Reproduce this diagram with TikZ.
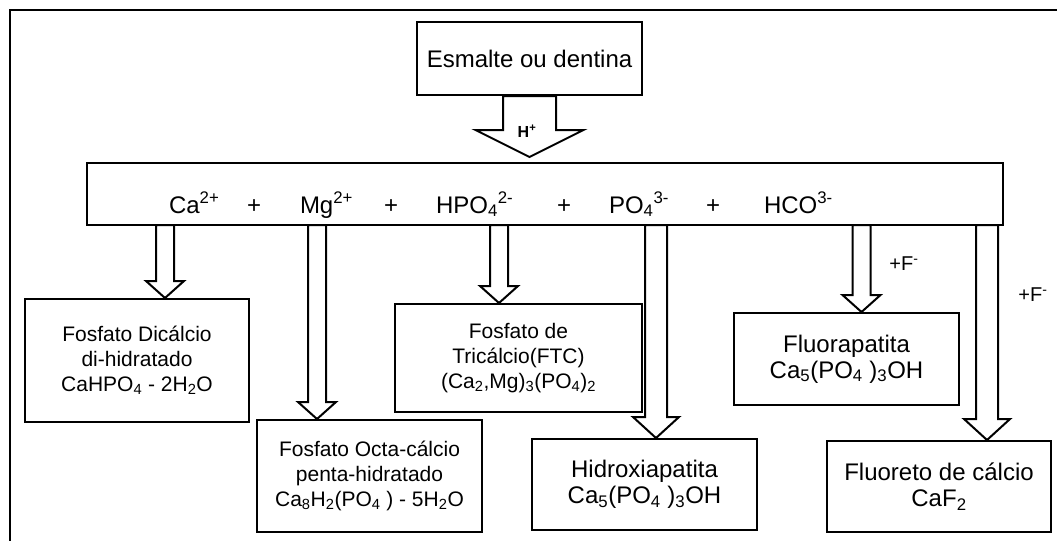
\documentclass[tikz,border=0pt]{standalone}
\usepackage{fontspec}
\setmainfont{Liberation Sans}
\usetikzlibrary{calc}

\begin{document}
\begin{tikzpicture}[x=1pt,y=-1pt,line width=2pt,
                    fat/.style n args={3}{fill=white,to path={let \p1=(\tikztostart),\p2=(\tikztotarget) in
                      (\x1-#1,\y1) -- (\x1-#1,\y2+#3) -- (\x1-#2,\y2+#3) -- (\x2,\y2)
                      -- (\x1+#2,\y2+#3) -- (\x1+#1,\y2+#3) -- (\x1+#1,\y1) -- cycle}}]
  \tikzstyle{box}=[draw,align=center,inner sep=2pt,font=\fontsize{21}{25}\selectfont]
  \tikzstyle{bigbox}=[box,font=\fontsize{24}{26}\selectfont]
  \tikzstyle{ion}=[anchor=base west,inner sep=0pt,font=\fontsize{24}{28}\selectfont]
  \tikzstyle{flabel}=[inner sep=0pt,font=\fontsize{20}{24}\selectfont]
  \tikzstyle{slim}=[fat={9pt}{19pt}{17pt}]
  \tikzstyle{wide}=[fat={11pt}{23pt}{21pt}]

  \useasboundingbox (0,0) rectangle (1057,541);
  \draw[line width=2.5pt] (1057,10) -- (10,10) -- (10,541);

  \node[bigbox,minimum width=225pt,minimum height=73pt] (esm) at (529.5,58.5) {Esmalte ou dentina};
  \node[draw,minimum width=916pt,minimum height=62pt]   (ions) at (545,194) {};

  \node[ion] (ca)  at (168,213) {Ca\textsuperscript{2+}};
  \node[ion] (p1)  at (246,213) {+};
  \node[ion] (mg)  at (299,213) {Mg\textsuperscript{2+}};
  \node[ion] (p2)  at (383,213) {+};
  \node[ion] (hpo) at (435,213) {HPO\textsubscript{4}\textsuperscript{2-}};
  \node[ion] (p3)  at (556,213) {+};
  \node[ion] (po)  at (608,213) {PO\textsubscript{4}\textsuperscript{3-}};
  \node[ion] (p4)  at (705,213) {+};
  \node[ion] (hco) at (763,213) {HCO\textsuperscript{3-}};

  \node[box,minimum width=224pt,minimum height=123pt] (fdd) at (137,360.5)
       {Fosfato Dicálcio\\di-hidratado\\CaHPO\textsubscript{4} - 2H\textsubscript{2}O};
  \node[box,minimum width=225pt,minimum height=112pt] (foc) at (369.5,476)
       {Fosfato Octa-cálcio\\penta-hidratado\\Ca\textsubscript{8}H\textsubscript{2}(PO\textsubscript{4} ) - 5H\textsubscript{2}O};
  \node[box,minimum width=247pt,minimum height=108pt] (ftc) at (518.5,358)
       {Fosfato de\\Tricálcio(FTC)\\(Ca\textsubscript{2},Mg)\textsubscript{3}(PO\textsubscript{4})\textsubscript{2}};
  \node[bigbox,minimum width=225pt,minimum height=91pt] (hid) at (644.5,484.5)
       {Hidroxiapatita\\Ca\textsubscript{5}(PO\textsubscript{4} )\textsubscript{3}OH};
  \node[bigbox,minimum width=225pt,minimum height=92pt] (flu) at (846.5,359)
       {Fluorapatita\\Ca\textsubscript{5}(PO\textsubscript{4} )\textsubscript{3}OH};
  \node[bigbox,minimum width=224pt,minimum height=91pt] (caf) at (939,486.5)
       {Fluoreto de cálcio\\CaF\textsubscript{2}};

  \coordinate (s1) at (165,225);
  \coordinate (s2) at (317,225);
  \coordinate (s3) at (499,225);
  \coordinate (s4) at (656,225);
  \coordinate (s5) at (861.5,225);
  \coordinate (s6) at (987,225);

  \draw[fat={26.5pt}{54pt}{27pt}] (esm.south) to ([yshift=5pt]esm.south |- ions.north);
  \draw[slim] (s1) to (s1 |- fdd.north);
  \draw[slim] (s2) to (s2 |- foc.north);
  \draw[slim] (s3) to (s3 |- ftc.north);
  \draw[wide] (s4) to (s4 |- hid.north);
  \draw[slim] (s5) to (s5 |- flu.north);
  \draw[wide] (s6) to (s6 |- caf.north);

  \node[font=\bfseries\fontsize{16}{18}\selectfont,inner sep=0pt] (hp) at (527,131) {H\textsuperscript{+}};
  \node[flabel] (f1) at (904,264)  {+F\textsuperscript{-}};
  \node[flabel] (f2) at (1033,295) {+F\textsuperscript{-}};
\end{tikzpicture}
\end{document}
